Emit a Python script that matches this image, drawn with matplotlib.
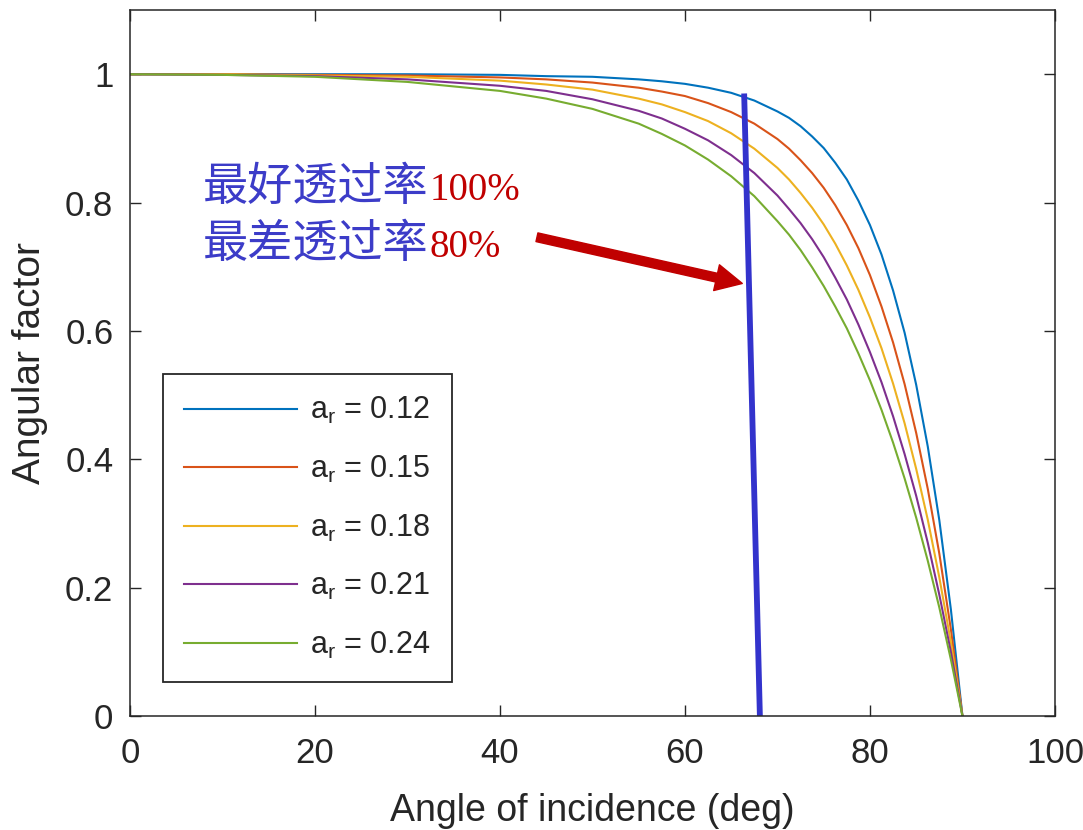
import matplotlib
matplotlib.use("Agg")
import matplotlib.pyplot as plt

# ====== Data ======
angles = [0, 10, 20, 30, 40, 45, 50, 55, 57.5, 60, 62.5, 65, 67.5, 70, 71.25, 72.5,
          73.75, 75, 76.25, 77.5, 78.75, 80, 81.25, 82.5, 83.75, 85, 86.25, 87.5, 88.75, 90]
fa_012 = [1.000, 1.000, 1.000, 1.000, 0.999, 0.997, 0.996, 0.992, 0.989, 0.985,
          0.979, 0.971, 0.959, 0.942, 0.932, 0.919, 0.903, 0.885, 0.862, 0.836,
          0.803, 0.765, 0.719, 0.663, 0.597, 0.516, 0.420, 0.305, 0.166, 0.000]
fa_015 = [1.000, 1.000, 0.999, 0.998, 0.995, 0.992, 0.987, 0.979, 0.973, 0.966,
          0.955, 0.941, 0.923, 0.899, 0.884, 0.866, 0.846, 0.823, 0.796, 0.765,
          0.729, 0.687, 0.638, 0.582, 0.517, 0.441, 0.354, 0.253, 0.135, 0.000]
fa_018 = [1.000, 1.000, 0.998, 0.996, 0.990, 0.984, 0.976, 0.962, 0.953, 0.941,
          0.927, 0.908, 0.884, 0.854, 0.836, 0.815, 0.792, 0.766, 0.736, 0.702,
          0.664, 0.621, 0.573, 0.518, 0.456, 0.385, 0.306, 0.216, 0.115, 0.000]
fa_021 = [1.000, 0.999, 0.997, 0.992, 0.982, 0.974, 0.961, 0.943, 0.931, 0.915,
          0.897, 0.874, 0.846, 0.811, 0.790, 0.768, 0.743, 0.715, 0.683, 0.649,
          0.610, 0.567, 0.520, 0.467, 0.408, 0.343, 0.270, 0.189, 0.100, 0.000]
fa_024 = [1.000, 0.999, 0.996, 0.988, 0.974, 0.962, 0.946, 0.923, 0.907, 0.889,
          0.867, 0.841, 0.810, 0.771, 0.750, 0.726, 0.699, 0.670, 0.638, 0.604,
          0.565, 0.523, 0.477, 0.426, 0.370, 0.309, 0.242, 0.169, 0.088, 0.000]

series = [fa_012, fa_015, fa_018, fa_021, fa_024]
ar_labels = ["0.12", "0.15", "0.18", "0.21", "0.24"]
colors = ["#0072BD", "#D95319", "#EDB120", "#7E2F8E", "#77AC30"]

# hand-drawn marker line and arrow (data coords)
marker_x = [66.4, 68.1]
marker_y = [0.970, 0.0]
arrow_start = (44.0, 0.746)
arrow_end = (66.2, 0.674)

text_lines = [("最好透过率", "100%"), ("最差透过率", "80%")]

# ====== Plot ======
plt.rcParams['font.family'] = ['Liberation Sans', 'DejaVu Sans']
axis_color = '#262626'

fig = plt.figure(figsize=(10.83, 8.30), dpi=100)
ax = fig.add_axes([0.1200, 0.1373, 0.8541, 0.8506])

for vals, lab, col in zip(series, ar_labels, colors):
    ax.plot(angles, vals, color=col, linewidth=1.5, solid_joinstyle='round',
            label=r'$\mathregular{a_r}$ = ' + lab)

ax.plot(marker_x, marker_y, color='#3333cc', linewidth=4.2, solid_capstyle='butt')

ax.annotate('', xy=arrow_end, xytext=arrow_start,
            arrowprops=dict(arrowstyle='simple,head_length=0.95,head_width=0.95,tail_width=0.32',
                            color='#c00000', shrinkA=0, shrinkB=0, mutation_scale=20))

ax.set_xlim(0, 100)
ax.set_ylim(0, 1.1)
ax.set_xticks([0, 20, 40, 60, 80, 100])
ax.set_yticks([0, 0.2, 0.4, 0.6, 0.8, 1])
ax.set_yticklabels(['0', '0.2', '0.4', '0.6', '0.8', '1'])
ax.tick_params(direction='in', length=8, width=1.0, colors=axis_color,
               labelsize=25, top=True, right=True)
ax.tick_params(axis='y', pad=12)
ax.tick_params(axis='x', pad=15)
for sp in ax.spines.values():
    sp.set_color(axis_color)
    sp.set_linewidth(1.1)

ax.set_xlabel('Angle of incidence (deg)', fontsize=27, color=axis_color, labelpad=17)
ax.set_ylabel('Angular factor', fontsize=28, color=axis_color, labelpad=12)

leg = ax.legend(loc='lower left', bbox_to_anchor=(0.0357, 0.048), borderaxespad=0,
                fontsize=22, fancybox=False, edgecolor=axis_color, framealpha=1,
                handlelength=3.7, handletextpad=0.4, labelspacing=0.9,
                borderpad=0.7)
leg.get_frame().set_linewidth(1.3)
for t in leg.get_texts():
    t.set_color(axis_color)

# annotation text: Chinese part in blue, numbers in red
cn_x = 7.9
base_y = [0.804, 0.715]
fig.canvas.draw()
renderer = fig.canvas.get_renderer()
for (cn, num), y in zip(text_lines, base_y):
    t1 = ax.text(cn_x, y, cn, fontsize=32.5, color='#3c3cc8', va='baseline', ha='left',
                 fontweight='light', family=['Noto Sans CJK SC', 'DejaVu Sans'])
    bb = t1.get_window_extent(renderer=renderer)
    x_right = ax.transData.inverted().transform((bb.x1, bb.y0))[0]
    ax.text(x_right + 0.1, y, num, fontsize=28, color='#c00000', va='baseline', ha='left',
            family='Liberation Serif')

fig.savefig('out.png', dpi=100)
